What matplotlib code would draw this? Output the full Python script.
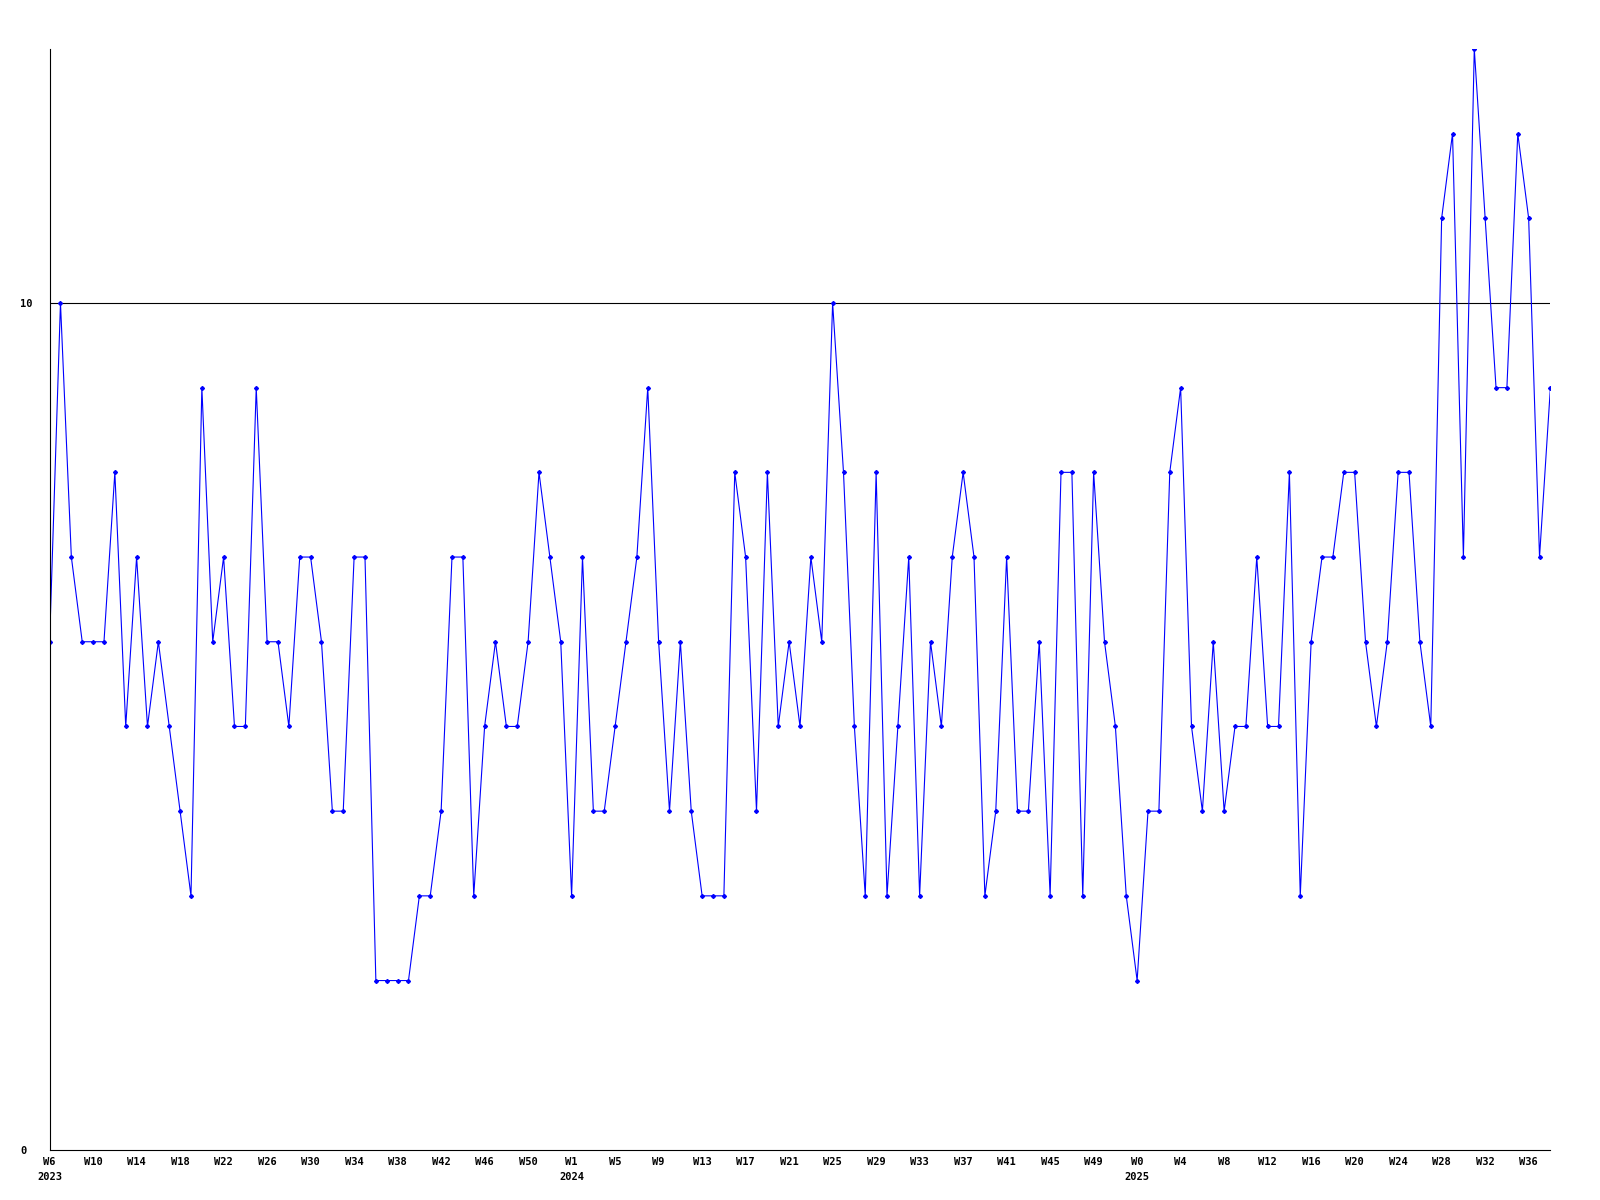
import numpy as np
import matplotlib
matplotlib.use("Agg")
import matplotlib.pyplot as plt

# weekly values, W6 2023 .. W38 2025
values = [
    6, 10, 7, 6, 6, 6, 8, 5, 7, 5, 6, 5, 4, 3, 9, 6, 7, 5, 5, 9,
    6, 6, 5, 7, 7, 6, 4, 4, 7, 7, 2, 2, 2, 2, 3, 3, 4, 7, 7, 3,
    5, 6, 5, 5, 6, 8, 7, 6, 3, 7, 4, 4, 5, 6, 7, 9, 6, 4, 6, 4,
    3, 3, 3, 8, 7, 4, 8, 5, 6, 5, 7, 6, 10, 8, 5, 3, 8, 3, 5, 7,
    3, 6, 5, 7, 8, 7, 3, 4, 7, 4, 4, 6, 3, 8, 8, 3, 8, 6, 5, 3,
    2, 4, 4, 8, 9, 5, 4, 6, 4, 5, 5, 7, 5, 5, 8, 3, 6, 7, 7, 8,
    8, 6, 5, 6, 8, 8, 6, 5, 11, 12, 7, 13, 11, 9, 9, 12, 11, 7, 9,
]
week_labels = [
    "W6", "W10", "W14", "W18", "W22", "W26", "W30", "W34", "W38", "W42", "W46", "W50",
    "W1", "W5", "W9", "W13", "W17", "W21", "W25", "W29", "W33", "W37", "W41", "W45", "W49",
    "W0", "W4", "W8", "W12", "W16", "W20", "W24", "W28", "W32", "W36",
]
year_labels = {0: "2023", 48: "2024", 100: "2025"}

x = np.arange(len(values))
font = dict(family="DejaVu Sans Mono", fontweight="bold", fontsize=7.5)

fig = plt.figure(figsize=(16, 12), dpi=100)
ax = fig.add_axes([0.031, 0.0417, 0.938, 0.9176])

ax.plot(x, values, color="#0000ff", linewidth=0.8, marker="D", markersize=2.0,
        markerfacecolor="#0000ff", markeredgecolor="#0000ff")
ax.axhline(10, color="black", linewidth=0.8, zorder=0)

ax.set_xlim(0, len(values) - 1)
ax.set_ylim(0, 13)

ax.spines["top"].set_visible(False)
ax.spines["right"].set_visible(False)
ax.spines["left"].set_linewidth(0.8)
ax.spines["bottom"].set_linewidth(0.8)

ax.set_yticks([0, 10])
ax.set_yticklabels(["0", "10"], **font)
ax.tick_params(axis="y", length=0, pad=21)
for lbl in ax.get_yticklabels():
    lbl.set_horizontalalignment("left")

ax.set_xticks(x[::4])
ax.set_xticklabels(week_labels, **font)
ax.tick_params(axis="x", length=0, pad=5)

for i, yr in year_labels.items():
    ax.annotate(yr, xy=(i, 0), xycoords=("data", "axes fraction"),
                xytext=(0, -16), textcoords="offset points",
                ha="center", va="top", **font)

fig.savefig("out.png", dpi=100)
